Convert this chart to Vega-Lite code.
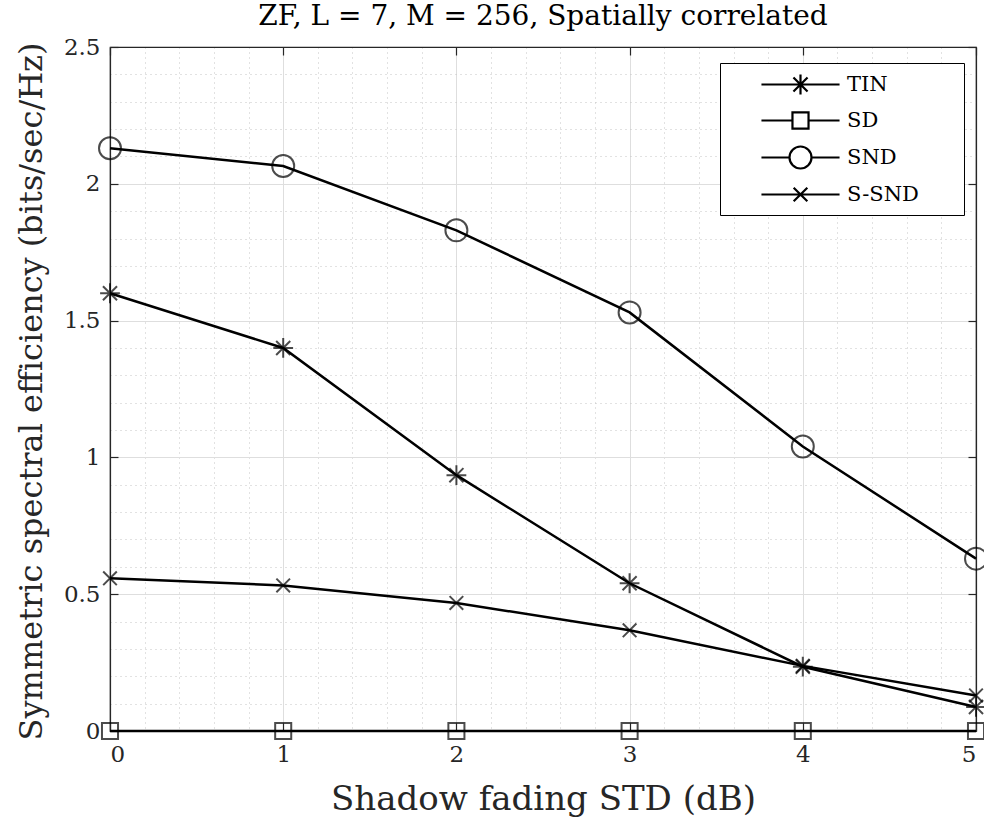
{
  "$schema": "https://vega.github.io/schema/vega-lite/v6.json",
  "width": 866,
  "height": 684,
  "autosize": {"type": "none"},
  "padding": {"left": 110, "top": 47, "right": 8, "bottom": 88},
  "background": "white",
  "title": {
    "text": "ZF, L = 7, M = 256, Spatially correlated",
    "font": "DejaVu Serif",
    "fontSize": 28,
    "fontWeight": "normal",
    "color": "black",
    "anchor": "middle",
    "offset": 12,
    "dy": 7
  },
  "data": {
    "values": [
      {"std": 0, "scheme": "TIN", "se": 1.60},
      {"std": 1, "scheme": "TIN", "se": 1.40},
      {"std": 2, "scheme": "TIN", "se": 0.935},
      {"std": 3, "scheme": "TIN", "se": 0.54},
      {"std": 4, "scheme": "TIN", "se": 0.235},
      {"std": 5, "scheme": "TIN", "se": 0.088},
      {"std": 0, "scheme": "SD", "se": 0},
      {"std": 1, "scheme": "SD", "se": 0},
      {"std": 2, "scheme": "SD", "se": 0},
      {"std": 3, "scheme": "SD", "se": 0},
      {"std": 4, "scheme": "SD", "se": 0},
      {"std": 5, "scheme": "SD", "se": 0},
      {"std": 0, "scheme": "SND", "se": 2.13},
      {"std": 1, "scheme": "SND", "se": 2.065},
      {"std": 2, "scheme": "SND", "se": 1.83},
      {"std": 3, "scheme": "SND", "se": 1.53},
      {"std": 4, "scheme": "SND", "se": 1.04},
      {"std": 5, "scheme": "SND", "se": 0.63},
      {"std": 0, "scheme": "S-SND", "se": 0.558},
      {"std": 1, "scheme": "S-SND", "se": 0.532},
      {"std": 2, "scheme": "S-SND", "se": 0.468},
      {"std": 3, "scheme": "S-SND", "se": 0.368},
      {"std": 4, "scheme": "S-SND", "se": 0.238},
      {"std": 5, "scheme": "S-SND", "se": 0.13}
    ]
  },
  "config": {
    "view": {"stroke": "#262626", "strokeWidth": 1.2},
    "axis": {
      "labelFont": "DejaVu Serif",
      "titleFont": "DejaVu Serif",
      "labelColor": "#262626",
      "titleColor": "#262626",
      "titleFontWeight": "normal",
      "domainColor": "#262626",
      "tickColor": "#262626",
      "domainWidth": 1.2,
      "tickWidth": 1.2
    }
  },
  "layer": [
    {
      "transform": [{"filter": "datum.scheme !== 'SD'"}],
      "mark": {"type": "line", "color": "black", "strokeWidth": 2.5},
      "encoding": {
        "x": {
          "field": "std",
          "type": "quantitative",
          "scale": {"domain": [0, 5], "nice": false, "zero": false},
          "axis": {
            "orient": "bottom",
            "title": null,
            "labels": false,
            "ticks": false,
            "domain": false,
            "values": [0.2, 0.4, 0.6, 0.8, 1.2, 1.4, 1.6, 1.8, 2.2, 2.4, 2.6, 2.8, 3.2, 3.4, 3.6, 3.8, 4.2, 4.4, 4.6, 4.8],
            "grid": true,
            "gridColor": "#c4c4c4",
            "gridDash": [1, 4],
            "gridWidth": 1
          }
        },
        "y": {
          "field": "se",
          "type": "quantitative",
          "scale": {"domain": [0, 2.5], "nice": false},
          "axis": {
            "orient": "left",
            "title": null,
            "labels": false,
            "ticks": false,
            "domain": false,
            "values": [0.1, 0.2, 0.3, 0.4, 0.6, 0.7, 0.8, 0.9, 1.1, 1.2, 1.3, 1.4, 1.6, 1.7, 1.8, 1.9, 2.1, 2.2, 2.3, 2.4],
            "grid": true,
            "gridColor": "#c4c4c4",
            "gridDash": [1, 4],
            "gridWidth": 1
          }
        },
        "detail": {"field": "scheme", "type": "nominal"}
      }
    },
    {
      "transform": [{"filter": "datum.scheme === 'SD'"}],
      "mark": {"type": "line", "color": "black", "strokeWidth": 2.5},
      "encoding": {
        "x": {
          "field": "std",
          "type": "quantitative",
          "axis": {"orient": "top", "title": null, "labels": false, "grid": false, "tickSize": -8, "values": [0, 1, 2, 3, 4, 5]}
        },
        "y": {
          "field": "se",
          "type": "quantitative",
          "axis": {"orient": "right", "title": null, "labels": false, "grid": false, "tickSize": -8, "values": [0, 0.5, 1, 1.5, 2, 2.5]}
        }
      }
    },
    {
      "mark": {"type": "point", "filled": false, "color": "black", "strokeWidth": 2, "size": 484},
      "encoding": {
        "x": {
          "field": "std",
          "type": "quantitative",
          "axis": {
            "orient": "bottom",
            "title": "Shadow fading STD (dB)",
            "titleFontSize": 34,
            "titlePadding": 16,
            "labelFontSize": 23,
            "values": [0, 1, 2, 3, 4, 5],
            "format": "~g",
            "labelPadding": 20,
            "tickSize": -8,
            "grid": true,
            "gridColor": "#dedede",
            "gridWidth": 1
          }
        },
        "y": {
          "field": "se",
          "type": "quantitative",
          "axis": {
            "orient": "left",
            "title": "Symmetric spectral efficiency (bits/sec/Hz)",
            "titleFontSize": 32,
            "titleX": -62,
            "titleY": 344,
            "labelFontSize": 23,
            "values": [0, 0.5, 1, 1.5, 2, 2.5],
            "format": "~g",
            "labelPadding": 18,
            "tickSize": -8,
            "grid": true,
            "gridColor": "#dedede",
            "gridWidth": 1
          }
        },
        "shape": {
          "field": "scheme",
          "type": "nominal",
          "scale": {
            "domain": ["TIN", "SD", "SND", "S-SND"],
            "range": [
              "M0,-0.9V0.9M-0.9,0H0.9M-0.64,-0.64L0.64,0.64M-0.64,0.64L0.64,-0.64",
              "M-0.73,-0.73H0.73V0.73H-0.73Z",
              "M1,0A1,1 0 1,1 -1,0A1,1 0 1,1 1,0Z",
              "M-0.62,-0.62L0.62,0.62M-0.62,0.62L0.62,-0.62"
            ]
          },
          "legend": null
        }
      }
    },
    {
      "mark": {"type": "point", "filled": false, "color": "black", "strokeWidth": 2.2, "size": 484, "opacity": 0},
      "encoding": {
        "x": {"field": "std", "type": "quantitative", "axis": null},
        "y": {"field": "se", "type": "quantitative", "axis": null},
        "shape": {
          "field": "scheme",
          "type": "nominal",
          "scale": {
            "domain": ["TIN", "SD", "SND", "S-SND"],
            "range": [
              "M-3.55,0H3.55M0,-0.9V0.9M-0.9,0H0.9M-0.64,-0.64L0.64,0.64M-0.64,0.64L0.64,-0.64M13.6,0",
              "M-3.55,0H-0.73M0.73,0H3.55M-0.73,-0.73H0.73V0.73H-0.73ZM13.6,0",
              "M-3.55,0H-1M1,0H3.55M1,0A1,1 0 1,1 -1,0A1,1 0 1,1 1,0ZM13.6,0",
              "M-3.55,0H3.55M-0.62,-0.62L0.62,0.62M-0.62,0.62L0.62,-0.62M13.6,0"
            ]
          },
          "legend": {
            "orient": "none",
            "legendX": 610,
            "legendY": 16,
            "title": null,
            "direction": "vertical",
            "fillColor": "white",
            "strokeColor": "black",
            "padding": 9,
            "rowPadding": 9,
            "symbolSize": 484,
            "symbolOffset": 59,
            "symbolStrokeWidth": 2.2,
            "symbolStrokeColor": "black",
            "symbolOpacity": 1,
            "labelOffset": 34,
            "labelFont": "DejaVu Serif",
            "labelFontSize": 21,
            "labelColor": "black"
          }
        }
      }
    }
  ],
  "resolve": {
    "scale": {"shape": "independent"},
    "axis": {"x": "independent", "y": "independent"}
  }
}
